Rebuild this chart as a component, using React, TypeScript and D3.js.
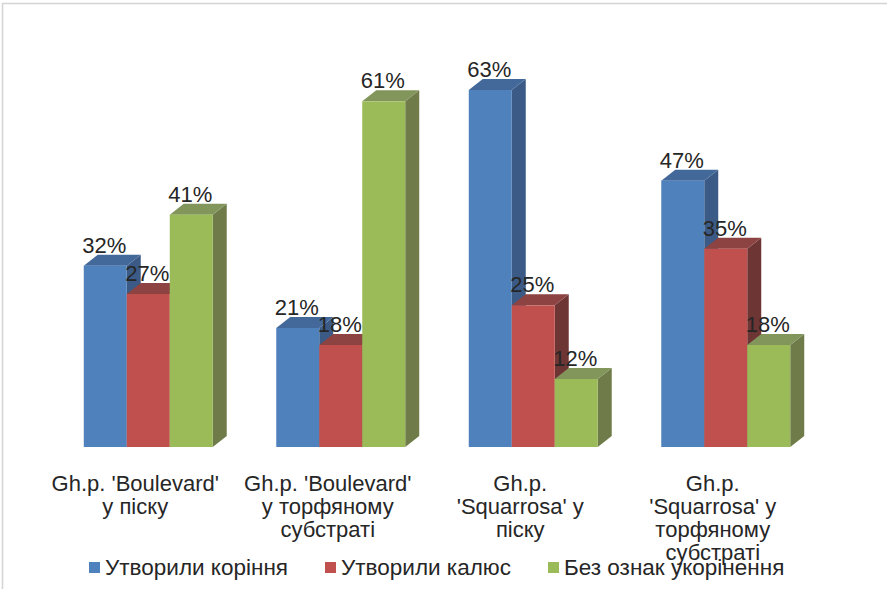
import React from "react";
import * as d3 from "d3";

// Rooting results of cuttings, per cultivar and substrate
const categories = ["bs", "bt", "ss", "st"];
const categoryLines = [
  ["Gh.p. 'Boulevard'", "у піску"],
  ["Gh.p. 'Boulevard'", "у торфяному", "субстраті"],
  ["Gh.p.", "'Squarrosa' у", "піску"],
  ["Gh.p.", "'Squarrosa' у", "торфяному", "субстраті"],
];
const seriesNames = ["Утворили коріння", "Утворили калюс", "Без ознак укорінення"];
const rooted = [32, 21, 63, 47];
const callus = [27, 18, 25, 35];
const noSigns = [41, 61, 12, 18];
const seriesValues = [rooted, callus, noSigns];

const palette = [
  { front: "#4F81BD", top: "#43699A", side: "#3B5B86" },
  { front: "#C0504D", top: "#8C4341", side: "#6E3535" },
  { front: "#9BBB59", top: "#82955B", side: "#6F7C4A" },
];

const W = 887;
const H = 589;
const DX = 14;
const DY = 11;
const FONT = "'Liberation Sans', Arial, sans-serif";

export default function App() {
  const x0 = d3
    .scaleBand<string>()
    .domain(categories)
    .range([52, 822])
    .paddingInner(0.33)
    .paddingOuter(0.165);
  const x1 = d3
    .scaleBand<number>()
    .domain(d3.range(seriesNames.length))
    .range([0, x0.bandwidth()]);
  const y = d3.scaleLinear().domain([0, 70]).range([447, 447 - 70 * 5.667]);
  const base = y(0);

  const bars: React.ReactNode[] = [];
  const labels: React.ReactNode[] = [];
  categories.forEach((c, ci) => {
    seriesNames.forEach((_, si) => {
      const v = seriesValues[si][ci];
      const xl = (x0(c) ?? 0) + (x1(si) ?? 0);
      const xr = xl + x1.bandwidth();
      const yt = y(v);
      const col = palette[si];
      bars.push(
        <g key={`b-${ci}-${si}`}>
          <polygon
            points={`${xr},${yt} ${xr + DX},${yt - DY} ${xr + DX},${base - DY} ${xr},${base}`}
            fill={col.side}
          />
          <polygon
            points={`${xl},${yt} ${xl + DX},${yt - DY} ${xr + DX},${yt - DY} ${xr},${yt}`}
            fill={col.top}
          />
          <rect x={xl} y={yt} width={xr - xl} height={base - yt} fill={col.front} />
        </g>
      );
      labels.push(
        <text
          key={`l-${ci}-${si}`}
          x={(xl + xr) / 2 - 1}
          y={yt - 13}
          textAnchor="middle"
          fontSize={22}
          fill="#262626"
          fontFamily={FONT}
        >
          {`${v}%`}
        </text>
      );
    });
  });

  const legendX = [89, 325, 548];

  return (
    <svg
      width={W}
      height={H}
      style={{ position: "absolute", left: 0, top: 0, background: "#fff" }}
    >
      <rect x={2.5} y={3.5} width={W + 10} height={H + 10} fill="#fff" stroke="#d4d4d4" strokeWidth={1.5} />
      {bars}
      {labels}
      {categories.map((c, ci) => {
        const cx = (x0(c) ?? 0) + x0.bandwidth() / 2 - 13;
        return (
          <text
            key={`c-${c}`}
            textAnchor="middle"
            fontSize={22}
            fill="#262626"
            fontFamily={FONT}
          >
            {categoryLines[ci].map((ln, li) => (
              <tspan key={li} x={cx} y={491 + li * 23}>
                {ln}
              </tspan>
            ))}
          </text>
        );
      })}
      {seriesNames.map((name, si) => (
        <g key={`lg-${si}`}>
          <rect x={legendX[si]} y={562} width={11} height={11} fill={palette[si].front} />
          <text x={legendX[si] + 16} y={575} fontSize={22.5} fill="#262626" fontFamily={FONT}>
            {name}
          </text>
        </g>
      ))}
    </svg>
  );
}
